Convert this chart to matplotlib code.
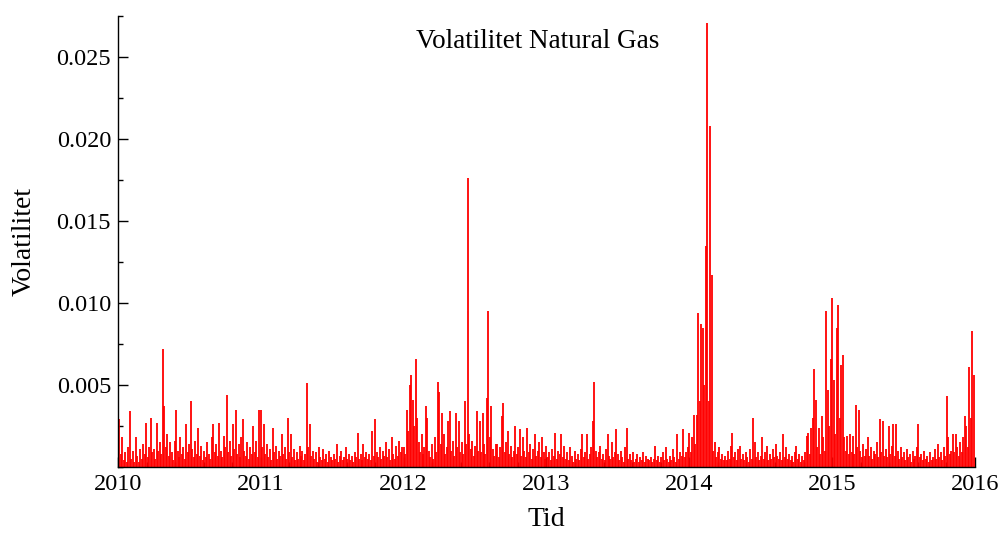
import numpy as np
import matplotlib
matplotlib.use("Agg")
import matplotlib.pyplot as plt
from matplotlib.ticker import MultipleLocator, FormatStrFormatter

plt.rcParams['font.family'] = ['Liberation Serif', 'DejaVu Serif']

# daily-ish volatility, in units of 1e-4 (96 samples per year)
vol_2010 = [6, 29, 8, 18, 4, 9, 3, 12, 34, 5, 10, 3,
            18, 7, 3, 11, 5, 14, 8, 27, 6, 12, 30, 9,
            11, 5, 27, 10, 15, 8, 72, 37, 12, 20, 7, 15,
            9, 4, 16, 35, 10, 6, 18, 8, 12, 5, 26, 9,
            14, 40, 11, 6, 16, 8, 24, 7, 13, 4, 10, 6,
            15, 8, 5, 18, 26, 9, 14, 7, 27, 10, 6, 19,
            12, 44, 9, 16, 7, 26, 11, 35, 8, 14, 6, 18,
            29, 10, 7, 15, 5, 12, 8, 25, 9, 16, 6, 35]
vol_2011 = [35, 12, 26, 8, 14, 6, 11, 4, 24, 9, 13, 5,
            10, 7, 20, 8, 12, 5, 30, 9, 20, 6, 11, 4,
            9, 5, 13, 7, 10, 4, 8, 51, 12, 26, 7, 10,
            5, 9, 3, 12, 6, 4, 11, 5, 8, 3, 10, 6,
            4, 8, 5, 14, 3, 7, 10, 4, 6, 12, 5, 8,
            4, 7, 3, 9, 6, 21, 5, 8, 4, 14, 6, 9,
            5, 8, 4, 22, 7, 29, 9, 6, 12, 5, 10, 7,
            15, 6, 11, 4, 18, 8, 5, 13, 7, 16, 9, 12]
vol_2012 = [12, 8, 35, 22, 50, 56, 41, 25, 66, 30, 15, 9,
            20, 8, 12, 37, 30, 10, 6, 14, 5, 18, 9, 52,
            46, 14, 33, 20, 8, 12, 28, 34, 10, 16, 7, 33,
            12, 28, 9, 15, 8, 40, 14, 176, 20, 11, 16, 7,
            13, 34, 10, 28, 9, 33, 14, 8, 42, 95, 18, 37,
            11, 7, 14, 14, 6, 12, 31, 39, 9, 15, 22, 8,
            13, 6, 10, 25, 8, 12, 23, 7, 18, 10, 6, 24,
            9, 14, 5, 11, 20, 7, 10, 15, 6, 18, 9, 5]
vol_2013 = [13, 6, 9, 4, 11, 7, 21, 5, 10, 8, 20, 6,
            13, 5, 9, 4, 12, 7, 3, 10, 5, 8, 4, 11,
            20, 6, 9, 20, 5, 8, 12, 28, 52, 10, 6, 9,
            13, 5, 8, 4, 11, 20, 7, 5, 15, 6, 9, 23,
            8, 4, 10, 6, 3, 12, 24, 5, 8, 4, 9, 3,
            5, 8, 3, 6, 4, 9, 3, 7, 5, 4, 6, 3,
            5, 13, 4, 7, 3, 6, 9, 4, 12, 5, 3, 7,
            4, 11, 6, 3, 20, 5, 9, 7, 23, 6, 9, 12]
vol_2014 = [21, 9, 18, 32, 14, 32, 94, 40, 87, 85, 50, 135,
            271, 40, 208, 117, 10, 15, 6, 9, 12, 5, 8, 4,
            7, 4, 10, 5, 13, 21, 6, 9, 4, 11, 13, 5,
            8, 4, 9, 6, 3, 11, 5, 30, 15, 6, 9, 4,
            7, 18, 5, 9, 13, 4, 8, 5, 11, 6, 14, 7,
            5, 9, 4, 20, 6, 12, 5, 8, 4, 7, 3, 9,
            13, 5, 8, 3, 7, 4, 9, 19, 21, 8, 24, 30,
            60, 41, 12, 24, 8, 31, 18, 10, 95, 47, 25, 66]
vol_2015 = [103, 53, 20, 85, 99, 30, 62, 68, 18, 10, 19, 8,
            20, 9, 19, 8, 38, 12, 35, 10, 6, 14, 7, 11,
            18, 7, 12, 5, 10, 8, 15, 6, 29, 9, 28, 7,
            11, 6, 25, 8, 13, 26, 7, 26, 10, 5, 12, 6,
            9, 4, 11, 6, 8, 3, 10, 5, 7, 12, 26, 6,
            8, 4, 10, 5, 7, 3, 9, 4, 6, 11, 5, 14,
            6, 9, 4, 12, 7, 43, 18, 8, 10, 20, 9, 20,
            12, 7, 15, 9, 18, 31, 25, 12, 61, 30, 83, 56]

years = [2010, 2011, 2012, 2013, 2014, 2015]
series = [vol_2010, vol_2011, vol_2012, vol_2013, vol_2014, vol_2015]

t = np.concatenate([y + np.arange(len(v)) / len(v) for y, v in zip(years, series)])
vol = np.concatenate([np.array(v) for v in series]) * 1e-4

fig = plt.figure(figsize=(10.05, 5.40), dpi=100)
ax = fig.add_axes([118 / 1005, 1 - 467 / 540, (975 - 118) / 1005, (467 - 16) / 540])

# spikes from zero, like the dense daily series in the original
ax.vlines(t, 0, vol, color='red', lw=1.3)

ax.set_xlim(2010, 2016)
ax.set_ylim(0, 0.0275)
for s in ['top', 'right']:
    ax.spines[s].set_visible(False)
for s in ['left', 'bottom']:
    ax.spines[s].set_linewidth(1.0)
    ax.spines[s].set_zorder(3)

ax.xaxis.set_major_locator(MultipleLocator(1))
ax.xaxis.set_minor_locator(MultipleLocator(0.2))
ax.xaxis.set_major_formatter(FormatStrFormatter('%d'))
ax.yaxis.set_major_locator(MultipleLocator(0.005))
ax.yaxis.set_minor_locator(MultipleLocator(0.0025))
ax.yaxis.set_major_formatter(FormatStrFormatter('%.3f'))
ax.set_yticks([0.005, 0.010, 0.015, 0.020, 0.025])

ax.tick_params(which='both', direction='in', labelsize=17.5, pad=5, width=1)
ax.tick_params(which='major', length=7)
ax.tick_params(which='minor', length=3.5)

ax.set_xlabel('Tid', fontsize=20, labelpad=9)
ax.set_ylabel('Volatilitet', fontsize=20, labelpad=14)
fig.text(0.535, 0.912, 'Volatilitet Natural Gas', fontsize=19.5, ha='center', va='baseline')

fig.savefig('out.png', dpi=100)
